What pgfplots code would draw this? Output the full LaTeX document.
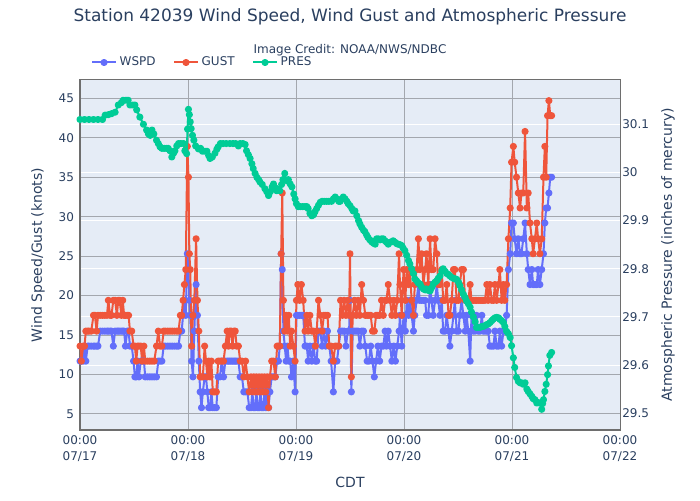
\documentclass[border=0pt]{standalone}
\usepackage{pgfplots}
\pgfplotsset{compat=1.18}
\usepackage{pgfplotstable}
\usepackage{fontspec}
\setmainfont{DejaVu Sans}

\definecolor{wspd}{HTML}{636EFA}
\definecolor{gust}{HTML}{EF553B}
\definecolor{pres}{HTML}{00CC96}
\definecolor{plotbg}{HTML}{E5ECF6}
\definecolor{txt}{HTML}{2A3F5F}
\definecolor{gridgray}{HTML}{A3A7AE}
\definecolor{framegray}{HTML}{6E6E6E}

% hours after 07/17 00:00 CDT, wind speed and gust in knots
\pgfplotstableread{
h wspd gust
0.0 11.7 13.6
0.3 11.7 11.7
0.7 11.7 13.6
1.0 13.6 13.6
1.3 11.7 15.5
1.7 13.6 15.5
2.0 13.6 15.5
2.5 13.6 15.5
3.0 13.6 17.5
3.3 13.6 17.5
3.7 13.6 15.5
4.0 13.6 17.5
4.5 15.5 17.5
5.0 15.5 17.5
5.5 15.5 17.5
6.0 15.5 17.5
6.3 15.5 19.4
6.7 15.5 17.5
7.0 15.5 17.5
7.4 13.6 19.4
7.8 15.5 19.4
8.2 15.5 17.5
8.5 15.5 19.4
8.8 15.5 19.4
9.2 15.5 17.5
9.5 15.5 19.4
9.8 15.5 17.5
10.1 13.6 17.5
10.5 15.5 17.5
10.8 15.5 17.5
11.1 13.6 15.5
11.5 13.6 15.5
11.9 11.7 13.6
12.2 9.7 13.6
12.5 9.7 11.7
12.8 11.7 13.6
13.1 9.7 13.6
13.5 11.7 13.6
13.8 11.7 11.7
14.2 11.7 13.6
14.5 9.7 11.7
15.0 9.7 11.7
15.5 9.7 11.7
16.0 9.7 11.7
16.5 9.7 11.7
17.0 9.7 13.6
17.4 11.7 15.5
17.8 11.7 13.6
18.2 11.7 13.6
18.6 13.6 15.5
19.0 13.6 15.5
19.5 13.6 15.5
20.0 13.6 15.5
20.5 13.6 15.5
21.0 13.6 15.5
21.5 13.6 15.5
21.9 13.6 15.5
22.3 15.5 17.5
22.6 15.5 17.5
22.9 17.5 19.4
23.2 19.4 21.4
23.5 17.5 23.3
23.85 25.3 38.9
24.1 23.3 35.0
24.3 19.4 25.3
24.5 17.5 23.3
24.8 11.7 13.6
25.1 9.7 17.5
25.4 15.5 19.4
25.8 21.4 27.2
26.1 17.5 19.4
26.4 11.7 15.5
26.7 7.8 9.7
27.0 5.8 9.7
27.3 7.8 9.7
27.7 9.7 13.6
28.0 9.7 11.7
28.3 7.8 9.7
28.6 5.8 11.7
28.9 5.8 9.7
29.2 7.8 11.7
29.5 5.8 7.8
29.9 5.8 7.8
30.3 5.8 7.8
30.7 9.7 11.7
31.1 9.7 11.7
31.5 11.7 11.7
31.9 9.7 11.7
32.3 11.7 13.6
32.7 11.7 15.5
33.0 11.7 13.6
33.3 11.7 15.5
33.6 11.7 15.5
33.9 11.7 13.6
34.2 11.7 15.5
34.5 11.7 15.5
34.8 11.7 13.6
35.2 11.7 13.6
35.6 9.7 11.7
36.0 9.7 11.7
36.4 7.8 9.7
36.8 7.8 11.7
37.2 7.8 9.7
37.6 5.8 7.8
38.0 5.8 9.7
38.3 7.8 7.8
38.6 5.8 9.7
38.9 5.8 7.8
39.2 7.8 9.7
39.5 5.8 7.8
39.8 5.8 9.7
40.1 7.8 7.8
40.4 5.8 9.7
40.7 5.8 7.8
41.0 7.8 9.7
41.3 5.8 7.8
41.6 7.8 9.7
41.9 5.8 5.8
42.2 7.8 9.7
42.6 9.7 11.7
43.0 9.7 11.7
43.4 9.7 9.7
43.8 11.7 13.6
44.1 11.7 13.6
44.4 13.6 13.6
44.7 25.3 25.3
44.95 23.3 33.0
45.2 15.5 19.4
45.5 13.6 15.5
45.8 11.7 17.5
46.1 13.6 15.5
46.4 11.7 17.5
46.7 11.7 13.6
47.0 9.7 15.5
47.4 11.7 13.6
47.8 7.8 11.7
48.1 17.5 19.4
48.4 17.5 21.4
48.8 17.5 19.4
49.2 17.5 21.4
49.6 17.5 19.4
50.0 13.6 15.5
50.4 13.6 17.5
50.7 11.7 15.5
51.1 13.6 17.5
51.5 11.7 15.5
51.9 13.6 15.5
52.3 11.7 13.6
52.6 11.7 15.5
53.0 15.5 19.4
53.4 15.5 17.5
53.8 13.6 15.5
54.2 15.5 17.5
54.6 13.6 17.5
55.0 15.5 17.5
55.4 13.6 13.6
55.8 11.7 13.6
56.3 7.8 11.7
56.7 11.7 13.6
57.1 11.7 13.6
57.5 13.6 13.6
57.9 15.5 19.4
58.3 15.5 17.5
58.7 15.5 19.4
59.1 13.6 17.5
59.5 15.5 19.4
59.8 15.5 17.5
60.0 19.4 25.3
60.3 7.8 9.7
60.6 15.5 17.5
61.0 15.5 19.4
61.4 15.5 17.5
61.8 15.5 19.4
62.2 13.6 17.5
62.6 15.5 21.4
63.0 15.5 19.4
63.4 13.6 17.5
63.8 11.7 17.5
64.2 11.7 17.5
64.6 13.6 17.5
65.0 11.7 15.5
65.4 9.7 15.5
65.8 11.7 17.5
66.2 13.6 17.5
66.6 11.7 17.5
67.0 13.6 19.4
67.4 13.6 17.5
67.8 15.5 19.4
68.1 13.6 19.4
68.5 15.5 21.4
68.9 13.6 19.4
69.3 11.7 17.5
69.7 13.6 19.4
70.1 11.7 17.5
70.5 13.6 19.4
70.9 15.5 25.3
71.1 17.5 21.4
71.5 13.6 17.5
71.9 17.5 23.3
72.3 15.5 19.4
72.6 19.4 23.3
73.0 17.5 21.4
73.3 19.4 23.3
73.7 17.5 19.4
74.1 15.5 17.5
74.4 17.5 21.4
74.8 19.4 23.3
75.2 21.4 27.2
75.5 19.4 23.3
75.9 19.4 25.3
76.3 19.4 21.4
76.7 19.4 23.3
77.0 17.5 25.3
77.4 17.5 21.4
77.8 21.4 27.2
78.1 19.4 23.3
78.5 17.5 23.3
78.9 19.4 27.2
79.3 21.4 25.3
79.6 19.4 21.4
80.0 17.5 21.4
80.4 19.4 23.3
80.7 15.5 19.4
81.1 15.5 19.4
81.5 17.5 21.4
81.9 15.5 17.5
82.2 13.6 17.5
82.6 15.5 19.4
83.0 17.5 23.3
83.3 19.4 23.3
83.7 15.5 19.4
84.1 15.5 19.4
84.4 17.5 21.4
84.8 19.4 23.3
85.2 17.5 23.3
85.6 15.5 19.4
85.9 17.5 19.4
86.3 15.5 19.4
86.7 11.7 21.4
87.0 17.5 19.4
87.4 15.5 19.4
87.8 15.5 19.4
88.1 17.5 19.4
88.5 15.5 19.4
88.9 15.5 19.4
89.3 17.5 19.4
89.6 15.5 19.4
90.0 15.5 19.4
90.4 15.5 21.4
90.7 15.5 19.4
91.1 13.6 21.4
91.5 13.6 19.4
91.9 13.6 19.4
92.2 15.5 21.4
92.6 13.6 19.4
93.0 13.6 21.4
93.3 15.5 23.3
93.7 13.6 19.4
94.1 15.5 21.4
94.4 15.5 19.4
94.8 17.5 21.4
95.2 23.3 27.2
95.6 25.3 31.1
95.9 29.2 36.9
96.3 29.2 38.9
96.6 27.2 36.9
97.0 25.3 35.0
97.4 27.2 33.0
97.8 25.3 31.1
98.1 25.3 33.0
98.5 27.2 33.0
98.9 29.2 40.8
99.3 25.3 31.1
99.6 23.3 33.0
100.0 21.4 29.2
100.4 23.3 27.2
100.7 21.4 25.3
101.1 21.4 27.2
101.5 21.4 29.2
101.8 23.3 27.2
102.2 21.4 25.3
102.6 23.3 27.2
103.0 25.3 35.0
103.3 29.2 38.9
103.6 31.1 35.0
103.9 31.1 42.8
104.2 33.0 44.7
104.5 35.0 42.8
104.8 35.0 42.8
}\windtable

% hours after 07/17 00:00 CDT, pressure in inches of mercury
\pgfplotstableread{
h pres
0 30.11
1 30.11
2 30.11
3 30.11
4 30.11
5 30.11
5.6 30.119
6.3 30.12
7.0 30.122
7.8 30.125
8.5 30.14
9.2 30.145
9.6 30.15
10.2 30.15
10.7 30.15
11.1 30.14
11.7 30.14
12.2 30.14
12.6 30.13
13.3 30.115
14.1 30.10
14.8 30.088
15.2 30.08
15.6 30.077
16.0 30.088
16.4 30.08
17.0 30.067
17.4 30.06
17.8 30.053
18.2 30.05
18.7 30.05
19.2 30.05
19.6 30.05
20.0 30.045
20.4 30.032
20.8 30.04
21.1 30.045
21.5 30.055
21.9 30.06
22.4 30.06
23.0 30.06
23.3 30.045
23.7 30.039
23.9 30.09
24.1 30.131
24.3 30.12
24.5 30.105
24.7 30.091
25.0 30.077
25.3 30.067
25.7 30.055
26.3 30.049
26.8 30.05
27.2 30.044
27.8 30.044
28.2 30.044
28.6 30.035
28.9 30.029
29.4 30.032
30.0 30.04
30.4 30.048
30.7 30.053
31.2 30.06
31.8 30.06
32.5 30.06
33.3 30.06
34.0 30.06
34.6 30.06
35.2 30.055
35.6 30.06
36.2 30.06
36.7 30.058
37.0 30.045
37.4 30.037
37.8 30.029
38.2 30.018
38.5 30.008
38.9 29.998
39.3 29.99
39.7 29.985
40.0 29.98
40.5 29.975
41.1 29.966
41.5 29.96
41.9 29.952
42.3 29.96
42.7 29.97
43.0 29.976
43.4 29.968
43.7 29.962
44.1 29.965
44.4 29.962
44.8 29.975
45.1 29.985
45.5 29.998
45.9 29.983
46.3 29.985
46.7 29.976
47.1 29.97
47.5 29.955
47.8 29.945
48.1 29.935
48.5 29.929
49.0 29.929
49.5 29.929
50.0 29.929
50.4 29.929
50.7 29.925
51.1 29.915
51.5 29.91
51.9 29.912
52.2 29.918
52.6 29.925
53.0 29.932
53.4 29.938
53.8 29.94
54.3 29.94
54.8 29.94
55.3 29.94
55.9 29.94
56.3 29.945
56.7 29.949
57.1 29.945
57.5 29.94
57.8 29.94
58.2 29.945
58.5 29.949
58.9 29.945
59.3 29.94
59.6 29.935
60.0 29.931
60.4 29.925
60.7 29.92
61.1 29.92
61.5 29.91
61.9 29.90
62.2 29.893
62.6 29.886
63.0 29.88
63.3 29.877
63.7 29.87
64.0 29.865
64.4 29.86
64.8 29.856
65.2 29.853
65.6 29.851
65.9 29.862
66.3 29.862
66.7 29.86
67.0 29.862
67.4 29.862
67.8 29.858
68.1 29.855
68.5 29.851
68.9 29.855
69.3 29.856
69.6 29.858
70.0 29.855
70.4 29.852
70.7 29.851
71.1 29.85
71.5 29.848
71.8 29.843
72.2 29.8375
72.6 29.828
73.0 29.817
73.3 29.81
73.7 29.80
74.1 29.79
74.4 29.779
74.8 29.775
75.2 29.77
75.6 29.768
75.9 29.762
76.3 29.758
76.7 29.756
77.0 29.758
77.4 29.755
77.8 29.754
78.1 29.76
78.5 29.768
78.9 29.772
79.3 29.775
79.6 29.78
80.0 29.785
80.4 29.795
80.7 29.80
81.1 29.795
81.5 29.79
81.9 29.788
82.2 29.785
82.6 29.782
83.0 29.78
83.3 29.779
83.7 29.778
84.1 29.772
84.4 29.765
84.8 29.756
85.2 29.747
85.6 29.74
85.9 29.733
86.3 29.727
86.7 29.72
87.0 29.71
87.4 29.70
87.8 29.69
88.1 29.678
88.5 29.678
88.9 29.678
89.3 29.68
89.6 29.68
90.0 29.682
90.4 29.684
90.7 29.685
91.1 29.688
91.5 29.692
91.8 29.695
92.2 29.698
92.6 29.699
93.0 29.698
93.3 29.695
93.7 29.692
94.1 29.688
94.4 29.68
94.8 29.67
95.2 29.665
95.6 29.657
95.9 29.64
96.3 29.615
96.6 29.595
97.0 29.574
97.4 29.566
97.8 29.563
98.1 29.563
98.5 29.56
98.9 29.563
99.3 29.55
99.6 29.545
100.0 29.54
100.4 29.535
100.7 29.53
101.1 29.528
101.5 29.521
101.8 29.522
102.2 29.521
102.6 29.508
102.8 29.52
103.0 29.528
103.3 29.545
103.6 29.56
103.9 29.58
104.1 29.598
104.4 29.62
104.8 29.626
}\prestable

\begin{document}
\begin{tikzpicture}[x=1pt,y=1pt]
\useasboundingbox (0,0) rectangle (525,375);
\pgfplotsset{
  frame/.style={
    at={(60pt,52.5pt)}, anchor=south west,
    scale only axis, width=405pt, height=262.5pt,
    xmin=0, xmax=120,
    xtick={0,24,48,72,96,120},
    major tick length=0pt,
    tick label style={font=\fontsize{9}{12}\selectfont, text=txt},
    /pgf/number format/assume math mode=true,
  },
  wspdline/.style={color=wspd, line width=1.5pt, line join=round, mark=*, mark size=1.9pt,
    mark options={fill=wspd, draw=none}},
  gustline/.style={color=gust, line width=1.5pt, line join=round, mark=*, mark size=1.9pt,
    mark options={fill=gust, draw=none}},
  presline/.style={color=pres, line width=1.5pt, line join=round, mark=*, mark size=1.9pt,
    mark options={fill=pres, draw=none}},
}

% plot background and pressure grid
\begin{axis}[frame,
  ymin=29.465, ymax=30.192,
  ytick={29.5,29.6,29.7,29.8,29.9,30,30.1},
  xticklabels={}, yticklabels={},
  axis line style={draw=none},
  axis background/.style={fill=plotbg},
  ymajorgrids, major grid style={white, line width=0.75pt},
]
\end{axis}

% wind speed and gust, left axis
\begin{axis}[frame,
  ymin=2.97, ymax=47.32,
  ytick={5,10,15,20,25,30,35,40,45},
  xticklabels={{00:00\\07/17},{00:00\\07/18},{00:00\\07/19},{00:00\\07/20},{00:00\\07/21},{00:00\\07/22}},
  xticklabel style={align=center, yshift=-1pt},
  yticklabel style={xshift=-1pt},
  xmajorgrids, ymajorgrids,
  major grid style={gridgray, line width=0.75pt},
  axis line style={framegray, line width=0.75pt},
]
\addplot[wspdline] table[x=h, y=wspd] {\windtable};
\addplot[gustline] table[x=h, y=gust] {\windtable};
\end{axis}

% pressure, right axis
\begin{axis}[frame,
  axis y line*=right, axis x line=none,
  ymin=29.465, ymax=30.192,
  ytick={29.5,29.6,29.7,29.8,29.9,30,30.1},
  yticklabel style={inner xsep=1.5pt},
  axis line style={draw=none},
  legend columns=3,
  legend style={at={(0.02,1.05)}, anchor=west, draw=none, fill=none,
    font=\fontsize{9}{11}\selectfont, text=txt, inner sep=0pt,
    /tikz/every even column/.append style={column sep=11pt}},
  legend image code/.code={\draw[mark repeat=2, mark phase=2, #1]
    plot coordinates {(0pt,0pt) (9pt,0pt) (18pt,0pt)};},
]
\addlegendimage{wspdline}\addlegendentry{WSPD}
\addlegendimage{gustline}\addlegendentry{GUST}
\addlegendimage{presline}\addlegendentry{PRES}
\addplot[presline, forget plot] table[x=h, y=pres] {\prestable};
\end{axis}

\node[font=\fontsize{12.75}{15}\selectfont, text=txt] at (262.5,362.25)
  {Station 42039 Wind Speed, Wind Gust and Atmospheric Pressure};
\node[font=\fontsize{9}{11}\selectfont, text=txt] at (262.5,337.5)
  {Image Credit: NOAA/NWS/NDBC};
\node[font=\fontsize{10.5}{12}\selectfont, text=txt] at (262.5,13.5) {CDT};
\node[font=\fontsize{10.5}{12}\selectfont, text=txt, rotate=90] at (28.5,183.75)
  {Wind Speed/Gust (knots)};
\node[font=\fontsize{10.5}{12}\selectfont, text=txt, rotate=90] at (501,183.75)
  {Atmospheric Pressure (inches of mercury)};
\end{tikzpicture}
\end{document}
